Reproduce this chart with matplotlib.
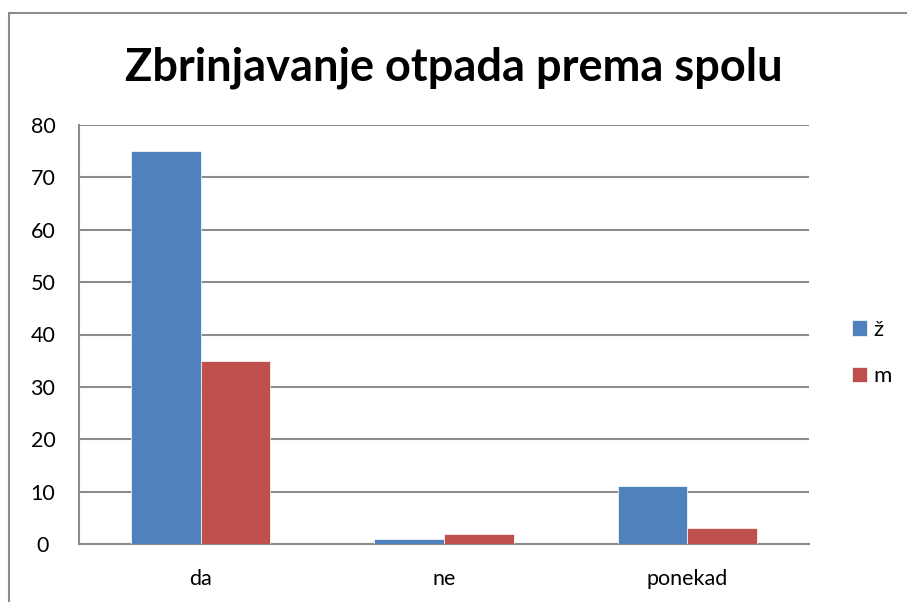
import matplotlib.pyplot as plt
import numpy as np
from matplotlib.patches import Rectangle

categories = ["da", "ne", "ponekad"]
zensko = [75, 1, 11]
musko = [35, 2, 3]
series_names = ["ž", "m"]
yticks = [0, 10, 20, 30, 40, 50, 60, 70, 80]

W, H = 907, 602
fig = plt.figure(figsize=(W / 100, H / 100), dpi=100)
plt.rcParams['font.family'] = ['Lato', 'DejaVu Sans']

# outer chart border (gray), runs off the right and bottom edges
fig.add_artist(Rectangle((9 / W, -0.1), 1.2, (H - 13) / H + 0.1,
                         transform=fig.transFigure, fill=False,
                         edgecolor="#8c8c8c", linewidth=1.5))

left, right, top, bottom = 79, 809, 125, 544
ax = fig.add_axes([left / W, 1 - bottom / H, (right - left) / W, (bottom - top) / H])

x = np.arange(len(categories))
bw = 1 / 3.5
ax.bar(x - bw / 2, zensko, bw, color="#4f81bd", edgecolor="#ffffff", linewidth=0.5,
       label=series_names[0], zorder=3)
ax.bar(x + bw / 2, musko, bw, color="#c0504d", edgecolor="#ffffff", linewidth=0.5,
       label=series_names[1], zorder=3)

ax.set_xlim(-0.5, len(categories) - 0.5)
ax.set_ylim(0, 80)
ax.set_yticks(yticks)
ax.set_xticks(x)
ax.set_xticklabels(categories)
ax.yaxis.grid(True, color="#8c8c8c", linewidth=1.5)
ax.set_axisbelow(True)
for s in ["top", "right"]:
    ax.spines[s].set_visible(False)
for s in ["left", "bottom"]:
    ax.spines[s].set_color("#8c8c8c")
    ax.spines[s].set_linewidth(1.5)
ax.tick_params(axis="both", length=0, labelsize=15.5)
ax.tick_params(axis="y", pad=26)
ax.tick_params(axis="x", pad=18)
for lab in ax.get_yticklabels():
    lab.set_horizontalalignment("center")

fig.text(0.5, 1 - 68 / H, "Zbrinjavanje otpada prema spolu", ha="center", va="center",
         fontsize=32.5, fontweight="bold")

fig.legend(loc="center left", bbox_to_anchor=(852 / W, 1 - 353 / H), frameon=False,
           fontsize=16, handlelength=0.68, handleheight=0.68, handletextpad=0.3,
           labelspacing=1.2, borderpad=0, borderaxespad=0)

fig.savefig("out.png", dpi=100)
